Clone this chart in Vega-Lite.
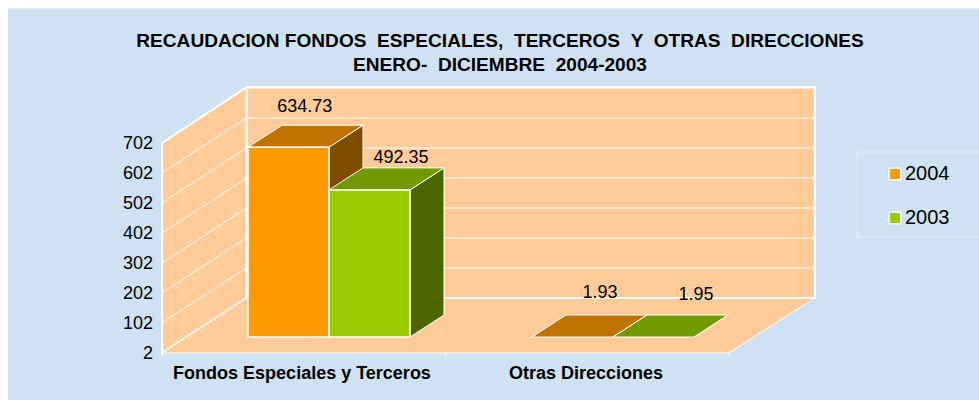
{
"$schema":"https://vega.github.io/schema/vega-lite/v6.json",
"width":568,"height":210,
"autosize":{"type":"none"},
"padding":{"left":187,"top":127,"right":224,"bottom":63},
"background":"#CFE2F3",
"config":{"font":"Liberation Sans","view":{"stroke":null}},
"title":{"text":["RECAUDACION FONDOS \u00a0ESPECIALES, \u00a0TERCEROS \u00a0Y \u00a0OTRAS \u00a0DIRECCIONES","ENERO- \u00a0DICIEMBRE \u00a02004-2003"],"anchor":"middle","dx":29,"offset":-76,"fontSize":19.1,"fontWeight":"bold","lineHeight":24,"color":"#000000","font":"Liberation Sans","zindex":1},
"datasets":{
"barras":[
{"categoria":"Fondos Especiales y Terceros","serie":"2004","valor":634.73},
{"categoria":"Fondos Especiales y Terceros","serie":"2003","valor":492.35},
{"categoria":"Otras Direcciones","serie":"2004","valor":1.93},
{"categoria":"Otras Direcciones","serie":"2003","valor":1.95}],
"rejilla":[{"v":2},{"v":102},{"v":202},{"v":302},{"v":402},{"v":502},{"v":602},{"v":702}],
"profundidad":[{"d":0},{"d":1}],
"marcas":[{"t":0},{"t":1},{"t":2}],
"uno":[{"u":1}]
},
"layer":[
{"data":{"name":"uno"},"mark":{"type":"rect","fill":"#ffffff"},
 "encoding":{"x":{"datum":-0.66,"type":"quantitative","scale":{"domain":[0,2],"nice":false,"zero":false},"axis":null},"x2":{"datum":-0.63},"y":{"datum":-300,"type":"quantitative","scale":{"domain":[2,702],"nice":false,"zero":false},"axis":null},"y2":{"datum":1130}}},
{"data":{"name":"uno"},"mark":{"type":"rect","fill":"#ffffff"},
 "encoding":{"x":{"datum":-0.66,"type":"quantitative","scale":{"domain":[0,2],"nice":false,"zero":false},"axis":null},"x2":{"datum":2.9},"y":{"datum":1098,"type":"quantitative","scale":{"domain":[2,702],"nice":false,"zero":false},"axis":null},"y2":{"datum":1130}}},
{"data":{"name":"uno"},"mark":{"type":"rect","fill":"#CFE2F3","stroke":"#E4EEF8","strokeWidth":1},
 "encoding":{"x":{"datum":2.359,"type":"quantitative","scale":{"domain":[0,2],"nice":false,"zero":false},"axis":null},"x2":{"datum":2.85},"y":{"datum":335.3,"type":"quantitative","scale":{"domain":[2,702],"nice":false,"zero":false},"axis":null},"y2":{"datum":618.7}}},
{"data":{"name":"uno"},"mark":{"type":"rect","fill":"#FFCC99","stroke":"#ffffff","strokeWidth":2},
 "encoding":{"x":{"datum":0.2095,"type":"quantitative","scale":{"domain":[0,2],"nice":false,"zero":false},"axis":null},"x2":{"datum":2.211},"y":{"datum":132,"type":"quantitative","scale":{"domain":[2,702],"nice":false,"zero":false},"axis":null},"y2":{"datum":835.3}}},
{"data":{"name":"profundidad"},
 "transform":[{"calculate":"-0.088+0.2975*datum.d","as":"x"},{"calculate":"-51.33+183.33*datum.d","as":"y"},{"calculate":"648.7+186.6*datum.d","as":"y2"}],
 "mark":{"type":"area","fill":"#FFCC99","stroke":"#ffffff","strokeWidth":2,"orient":"vertical"},
 "encoding":{"x":{"field":"x","type":"quantitative","scale":{"domain":[0,2],"nice":false,"zero":false},"axis":null},"y":{"field":"y","type":"quantitative","stack":null,"scale":{"domain":[2,702],"nice":false,"zero":false},"axis":null},"y2":{"field":"y2"}}},
{"data":{"name":"profundidad"},
 "transform":[{"calculate":"-0.088+0.2975*datum.d","as":"x"},{"calculate":"1.908+0.303*datum.d","as":"x2"},{"calculate":"-51.33+183.33*datum.d","as":"y"}],
 "mark":{"type":"area","fill":"#FFCC99","stroke":"#ffffff","strokeWidth":1,"orient":"horizontal"},
 "encoding":{"y":{"field":"y","type":"quantitative","scale":{"domain":[2,702],"nice":false,"zero":false},"axis":null},"x":{"field":"x","type":"quantitative","stack":null,"scale":{"domain":[0,2],"nice":false,"zero":false},"axis":null},"x2":{"field":"x2"}}},
{"data":{"name":"marcas"},
 "transform":[{"calculate":"-0.088+0.998*datum.t","as":"x"}],
 "mark":{"type":"rule","color":"#ffffff","strokeWidth":1},
 "encoding":{"x":{"field":"x","type":"quantitative","scale":{"domain":[0,2],"nice":false,"zero":false},"axis":null},"y":{"datum":-51.33,"type":"quantitative","scale":{"domain":[2,702],"nice":false,"zero":false},"axis":null},"y2":{"datum":-61}}},
{"data":{"name":"rejilla"},
 "transform":[{"calculate":"datum.v+130","as":"yb"}],
 "mark":{"type":"rule","color":"#ffffff","strokeWidth":1},
 "encoding":{"x":{"datum":0.2095,"type":"quantitative","scale":{"domain":[0,2],"nice":false,"zero":false},"axis":null},"x2":{"datum":2.211},"y":{"field":"yb","type":"quantitative","scale":{"domain":[2,702],"nice":false,"zero":false},"axis":null}}},
{"data":{"name":"rejilla"},
 "transform":[{"calculate":"datum.v+130","as":"yb"},{"calculate":"datum.v-53.33","as":"ya"}],
 "mark":{"type":"rule","color":"#ffffff","strokeWidth":1},
 "encoding":{"x":{"datum":-0.088,"type":"quantitative","scale":{"domain":[0,2],"nice":false,"zero":false},"axis":null},"x2":{"datum":0.2095},"y":{"field":"ya","type":"quantitative","scale":{"domain":[2,702],"nice":false,"zero":false},"axis":null},"y2":{"field":"yb"}}},
{"data":{"name":"rejilla"},
 "transform":[{"calculate":"datum.v-53.33","as":"ya"}],
 "mark":{"type":"text","align":"right","baseline":"middle","dx":-9,"dy":1,"fontSize":18,"color":"#000000","font":"Liberation Sans"},
 "encoding":{"x":{"datum":-0.088,"type":"quantitative","scale":{"domain":[0,2],"nice":false,"zero":false},"axis":null},"y":{"field":"ya","type":"quantitative","scale":{"domain":[2,702],"nice":false,"zero":false},"axis":null},"text":{"field":"v","type":"quantitative"}}},
{"data":{"name":"barras"},
 "transform":[
  {"filter":"datum.serie=='2004'"},
  {"calculate":"indexof(['Fondos Especiales y Terceros','Otras Direcciones'],datum.categoria)","as":"c"},
  {"calculate":"datum.c+0.5-27/284","as":"lx"}],
 "mark":{"type":"text","align":"center","baseline":"middle","dy":1,"fontSize":18,"fontWeight":"bold","color":"#000000","font":"Liberation Sans"},
 "encoding":{"x":{"field":"lx","type":"quantitative","scale":{"domain":[0,2],"nice":false,"zero":false},"axis":null},"y":{"datum":-118,"type":"quantitative","scale":{"domain":[2,702],"nice":false,"zero":false},"axis":null},"text":{"field":"categoria"}}},
{"data":{"name":"barras"},
 "transform":[
  {"calculate":"indexof(['Fondos Especiales y Terceros','Otras Direcciones'],datum.categoria)","as":"c"},
  {"calculate":"datum.c+0.5-(datum.serie=='2004'?0.2852:0)","as":"x0"},
  {"calculate":"datum.x0+0.2852","as":"x1"},
  {"calculate":"0","as":"p0"},{"calculate":"1","as":"p1"},
  {"fold":["p0","p1"],"as":["k","d"]},
  {"calculate":"datum.x1+0.1197*datum.d","as":"xs"},
  {"calculate":"datum.valor+73.3*datum.d","as":"ys"},
  {"calculate":"2+73.3*datum.d","as":"ys2"},
  {"calculate":"datum.categoria+datum.serie","as":"id"}],
 "mark":{"type":"area","stroke":"#ffffff","strokeWidth":1,"orient":"vertical"},
 "encoding":{"x":{"field":"xs","type":"quantitative","scale":{"domain":[0,2],"nice":false,"zero":false},"axis":null},"y":{"field":"ys","type":"quantitative","stack":null,"scale":{"domain":[2,702],"nice":false,"zero":false},"axis":null},"y2":{"field":"ys2"},"detail":{"field":"id"},
  "fill":{"condition":{"test":"datum.serie=='2004'","value":"#7F4C00"},"value":"#4C6600"},"order":{"field":"c"}}},
{"data":{"name":"barras"},
 "transform":[
  {"calculate":"indexof(['Fondos Especiales y Terceros','Otras Direcciones'],datum.categoria)","as":"c"},
  {"calculate":"datum.c+0.5-(datum.serie=='2004'?0.2852:0)","as":"x0"},
  {"calculate":"datum.x0+0.2852","as":"x1"},
  {"calculate":"0","as":"p0"},{"calculate":"1","as":"p1"},
  {"fold":["p0","p1"],"as":["k","d"]},
  {"calculate":"datum.x0+0.1197*datum.d","as":"xa"},
  {"calculate":"datum.x1+0.1197*datum.d","as":"xb"},
  {"calculate":"datum.valor+73.3*datum.d","as":"ys"},
  {"calculate":"datum.categoria+datum.serie","as":"id"}],
 "mark":{"type":"area","stroke":"#ffffff","strokeWidth":1,"orient":"horizontal"},
 "encoding":{"y":{"field":"ys","type":"quantitative","scale":{"domain":[2,702],"nice":false,"zero":false},"axis":null},"x":{"field":"xa","type":"quantitative","stack":null,"scale":{"domain":[0,2],"nice":false,"zero":false},"axis":null},"x2":{"field":"xb"},"detail":{"field":"id"},
  "fill":{"condition":{"test":"datum.serie=='2004'","value":"#BF7300"},"value":"#739900"}}},
{"data":{"name":"barras"},
 "transform":[
  {"calculate":"indexof(['Fondos Especiales y Terceros','Otras Direcciones'],datum.categoria)","as":"c"},
  {"calculate":"datum.c+0.5-(datum.serie=='2004'?0.2852:0)","as":"x0"},
  {"calculate":"datum.x0+0.2852","as":"x1"},
  {"filter":"datum.valor>=3"}],
 "mark":{"type":"bar","stroke":"#ffffff","strokeWidth":1.5},
 "encoding":{
  "x":{"field":"x0","type":"quantitative","scale":{"domain":[0,2],"nice":false,"zero":false},"axis":null},
  "x2":{"field":"x1"},
  "y":{"field":"valor","type":"quantitative","stack":null,"scale":{"domain":[2,702],"nice":false,"zero":false},"axis":null},
  "y2":{"datum":2},
  "fill":{"field":"serie","type":"nominal","scale":{"domain":["2004","2003"],"range":["#FF9900","#99CC00"]},
   "legend":{"title":null,"orient":"none","legendX":698,"legendY":37,"zindex":1,"symbolType":"square","symbolSize":130,"symbolStrokeColor":"#ffffff","symbolStrokeWidth":1.5,"symbolOpacity":1,"labelFontSize":20,"labelColor":"#000000","labelFont":"Liberation Sans","rowPadding":24,"labelOffset":0}}}},
{"data":{"name":"barras"},
 "transform":[
  {"calculate":"indexof(['Fondos Especiales y Terceros','Otras Direcciones'],datum.categoria)","as":"c"},
  {"calculate":"datum.c*2+(datum.serie=='2004'?0:1)","as":"i"},
  {"calculate":"datum.c+0.5+(datum.serie=='2004'?-0.1426:0.1426)+[16.3,31.5,27.5,42.5][datum.i]/284","as":"lx"},
  {"calculate":"datum.valor+[41,33,44.7,42.7][datum.i]/0.3","as":"ly"}],
 "mark":{"type":"text","fontSize":18,"dy":1,"color":"#000000","font":"Liberation Sans","baseline":"middle","align":"center"},
 "encoding":{"x":{"field":"lx","type":"quantitative","scale":{"domain":[0,2],"nice":false,"zero":false},"axis":null},"y":{"field":"ly","type":"quantitative","scale":{"domain":[2,702],"nice":false,"zero":false},"axis":null},"text":{"field":"valor","type":"quantitative","format":".2f"}}}
]
}
